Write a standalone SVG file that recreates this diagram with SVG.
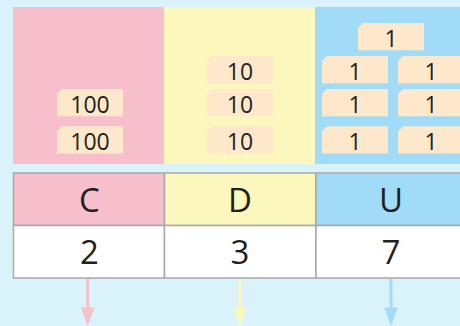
<svg xmlns="http://www.w3.org/2000/svg" width="460" height="326" viewBox="0 0 460 326">
<defs>
<style>
.tag{fill:#fde8cb}
.tt{font-family:"Open Sans","Noto Sans",sans-serif;font-size:23px;fill:#231f20;text-anchor:middle}
.ht{font-family:"Open Sans","Noto Sans",sans-serif;font-size:33px;fill:#231f20;text-anchor:middle}
.cell{stroke:#a8a8a8;stroke-width:1.5}
</style>
<path id="tg" d="M5,0 H66 V27.3 H0 V5 Z"/>
</defs>
<rect x="0" y="0" width="460" height="326" fill="#daf2fa"/>
<g id="panel-C">
<rect x="13" y="7" width="151" height="157" fill="#f7bfcc"/>
<use href="#tg" class="tag" x="57" y="89"/><text class="tt" x="90" y="112.7">100</text>
<use href="#tg" class="tag" x="57" y="126.3"/><text class="tt" x="90" y="150">100</text>
</g>
<g id="panel-D">
<rect x="164" y="7" width="151" height="157" fill="#fcf7bc"/>
<use href="#tg" class="tag" x="207" y="56"/><text class="tt" x="240" y="79.7">10</text>
<use href="#tg" class="tag" x="207" y="89"/><text class="tt" x="240" y="112.7">10</text>
<use href="#tg" class="tag" x="207" y="126.3"/><text class="tt" x="240" y="150">10</text>
</g>
<g id="panel-U">
<rect x="315" y="7" width="145" height="157" fill="#a0dcf7"/>
<use href="#tg" class="tag" x="358" y="23"/><text class="tt" x="391" y="46.7">1</text>
<use href="#tg" class="tag" x="322" y="56"/><text class="tt" x="355" y="79.7">1</text>
<use href="#tg" class="tag" x="398" y="56"/><text class="tt" x="431" y="79.7">1</text>
<use href="#tg" class="tag" x="322" y="89"/><text class="tt" x="355" y="112.7">1</text>
<use href="#tg" class="tag" x="398" y="89"/><text class="tt" x="431" y="112.7">1</text>
<use href="#tg" class="tag" x="322" y="126.3"/><text class="tt" x="355" y="150">1</text>
<use href="#tg" class="tag" x="398" y="126.3"/><text class="tt" x="431" y="150">1</text>
</g>
<g id="table">
<rect class="cell" x="13.5" y="173" width="151" height="52.5" fill="#f7bfcc"/>
<rect class="cell" x="164.5" y="173" width="151.5" height="52.5" fill="#fcf7bc"/>
<rect class="cell" x="316" y="173" width="150" height="52.5" fill="#a0dcf7"/>
<rect class="cell" x="13.5" y="225.5" width="151" height="52.5" fill="#ffffff"/>
<rect class="cell" x="164.5" y="225.5" width="151.5" height="52.5" fill="#ffffff"/>
<rect class="cell" x="316" y="225.5" width="150" height="52.5" fill="#ffffff"/>
<text class="ht" x="89.5" y="211.5">C</text>
<text class="ht" x="240" y="211.5">D</text>
<text class="ht" x="391" y="211.5">U</text>
<text class="ht" x="89.5" y="264">2</text>
<text class="ht" x="240" y="264">3</text>
<text class="ht" x="391" y="264">7</text>
</g>
<g id="connectors">
<line x1="87.7" y1="279" x2="87.7" y2="310" stroke="#f7bfcc" stroke-width="3"/>
<path d="M81,307.5 H94.4 L87.7,326 Z" fill="#f7bfcc"/>
<line x1="240" y1="279" x2="240" y2="310" stroke="#fcf7bc" stroke-width="3"/>
<path d="M233.3,307.5 H246.7 L240,326 Z" fill="#fcf7bc"/>
<line x1="391" y1="279" x2="391" y2="310" stroke="#a0dcf7" stroke-width="3"/>
<path d="M384.3,307.5 H397.7 L391,326 Z" fill="#a0dcf7"/>
</g>
</svg>
